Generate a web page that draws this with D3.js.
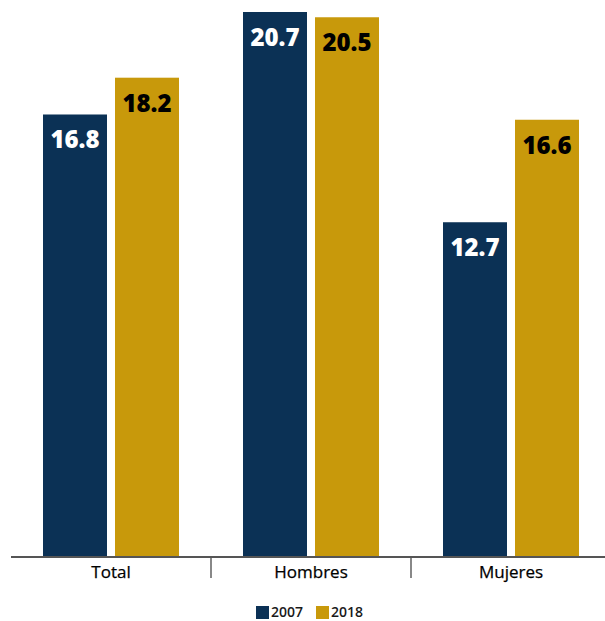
<!DOCTYPE html>
<html>
<head>
<meta charset="utf-8">
<script src="https://cdn.jsdelivr.net/npm/d3@7"></script>
<style>
  html, body { margin: 0; padding: 0; background: #fff; }
  svg { display: block; font-family: "Open Sans", sans-serif; }
</style>
</head>
<body>
<svg id="chart" width="605" height="621"></svg>
<script>
const categories = ["Total", "Hombres", "Mujeres"];
const seriesNames = ["2007", "2018"];
const values2007 = [16.8, 20.7, 12.7];
const values2018 = [18.2, 20.5, 16.6];
const seriesColors = ["#0b3155", "#c8990b"];
const labelColors = ["#ffffff", "#000000"];

const series = [values2007, values2018];
const svg = d3.select("#chart");

const baseline = 556;
const x0 = d3.scaleBand().domain(categories).range([11, 611]).padding(0);
const x1 = d3.scaleBand().domain(seriesNames).range([0, x0.bandwidth()])
  .paddingInner(8 / 72).paddingOuter(32 / 72);
const y = d3.scaleLinear().domain([0, 20.7]).range([baseline, 12]);

// bars
seriesNames.forEach((s, si) => {
  const g = svg.append("g");
  g.selectAll("rect").data(categories).join("rect")
    .attr("x", c => x0(c) + x1(s))
    .attr("y", (c, i) => y(series[si][i]))
    .attr("width", x1.bandwidth())
    .attr("height", (c, i) => baseline - y(series[si][i]))
    .attr("fill", seriesColors[si]);
  g.selectAll("text").data(categories).join("text")
    .attr("x", c => x0(c) + x1(s) + x1.bandwidth() / 2)
    .attr("y", (c, i) => y(series[si][i]) + 34)
    .attr("text-anchor", "middle")
    .attr("font-size", 24)
    .attr("font-weight", 800)
    .attr("fill", labelColors[si])
    .text((c, i) => series[si][i].toFixed(1));
});

// axis line
svg.append("line")
  .attr("x1", 11).attr("x2", 605)
  .attr("y1", baseline + 1).attr("y2", baseline + 1)
  .attr("stroke", "#555").attr("stroke-width", 2);

// separators
svg.selectAll("line.sep").data(categories.slice(1)).join("line")
  .attr("class", "sep")
  .attr("x1", c => x0(c)).attr("x2", c => x0(c))
  .attr("y1", baseline + 2).attr("y2", 578)
  .attr("stroke", "#888").attr("stroke-width", 2);

// category labels
svg.selectAll("text.cat").data(categories).join("text")
  .attr("class", "cat")
  .attr("x", c => x0(c) + x0.bandwidth() / 2)
  .attr("y", 578)
  .attr("text-anchor", "middle")
  .attr("font-size", 17)
  .attr("fill", "#000")
  .attr("stroke", "#000")
  .attr("stroke-width", 0.25)
  .text(c => c);

// legend
const legendItems = [
  { name: seriesNames[0], color: seriesColors[0], x: 256 },
  { name: seriesNames[1], color: seriesColors[1], x: 316 }
];
const lg = svg.append("g");
legendItems.forEach(it => {
  lg.append("rect").attr("x", it.x).attr("y", 606).attr("width", 13).attr("height", 13).attr("fill", it.color);
  lg.append("text").attr("x", it.x + 15).attr("y", 617)
    .attr("font-size", 14).attr("font-weight", 600).attr("fill", "#1a1a1a")
    .text(it.name);
});
</script>
</body>
</html>
